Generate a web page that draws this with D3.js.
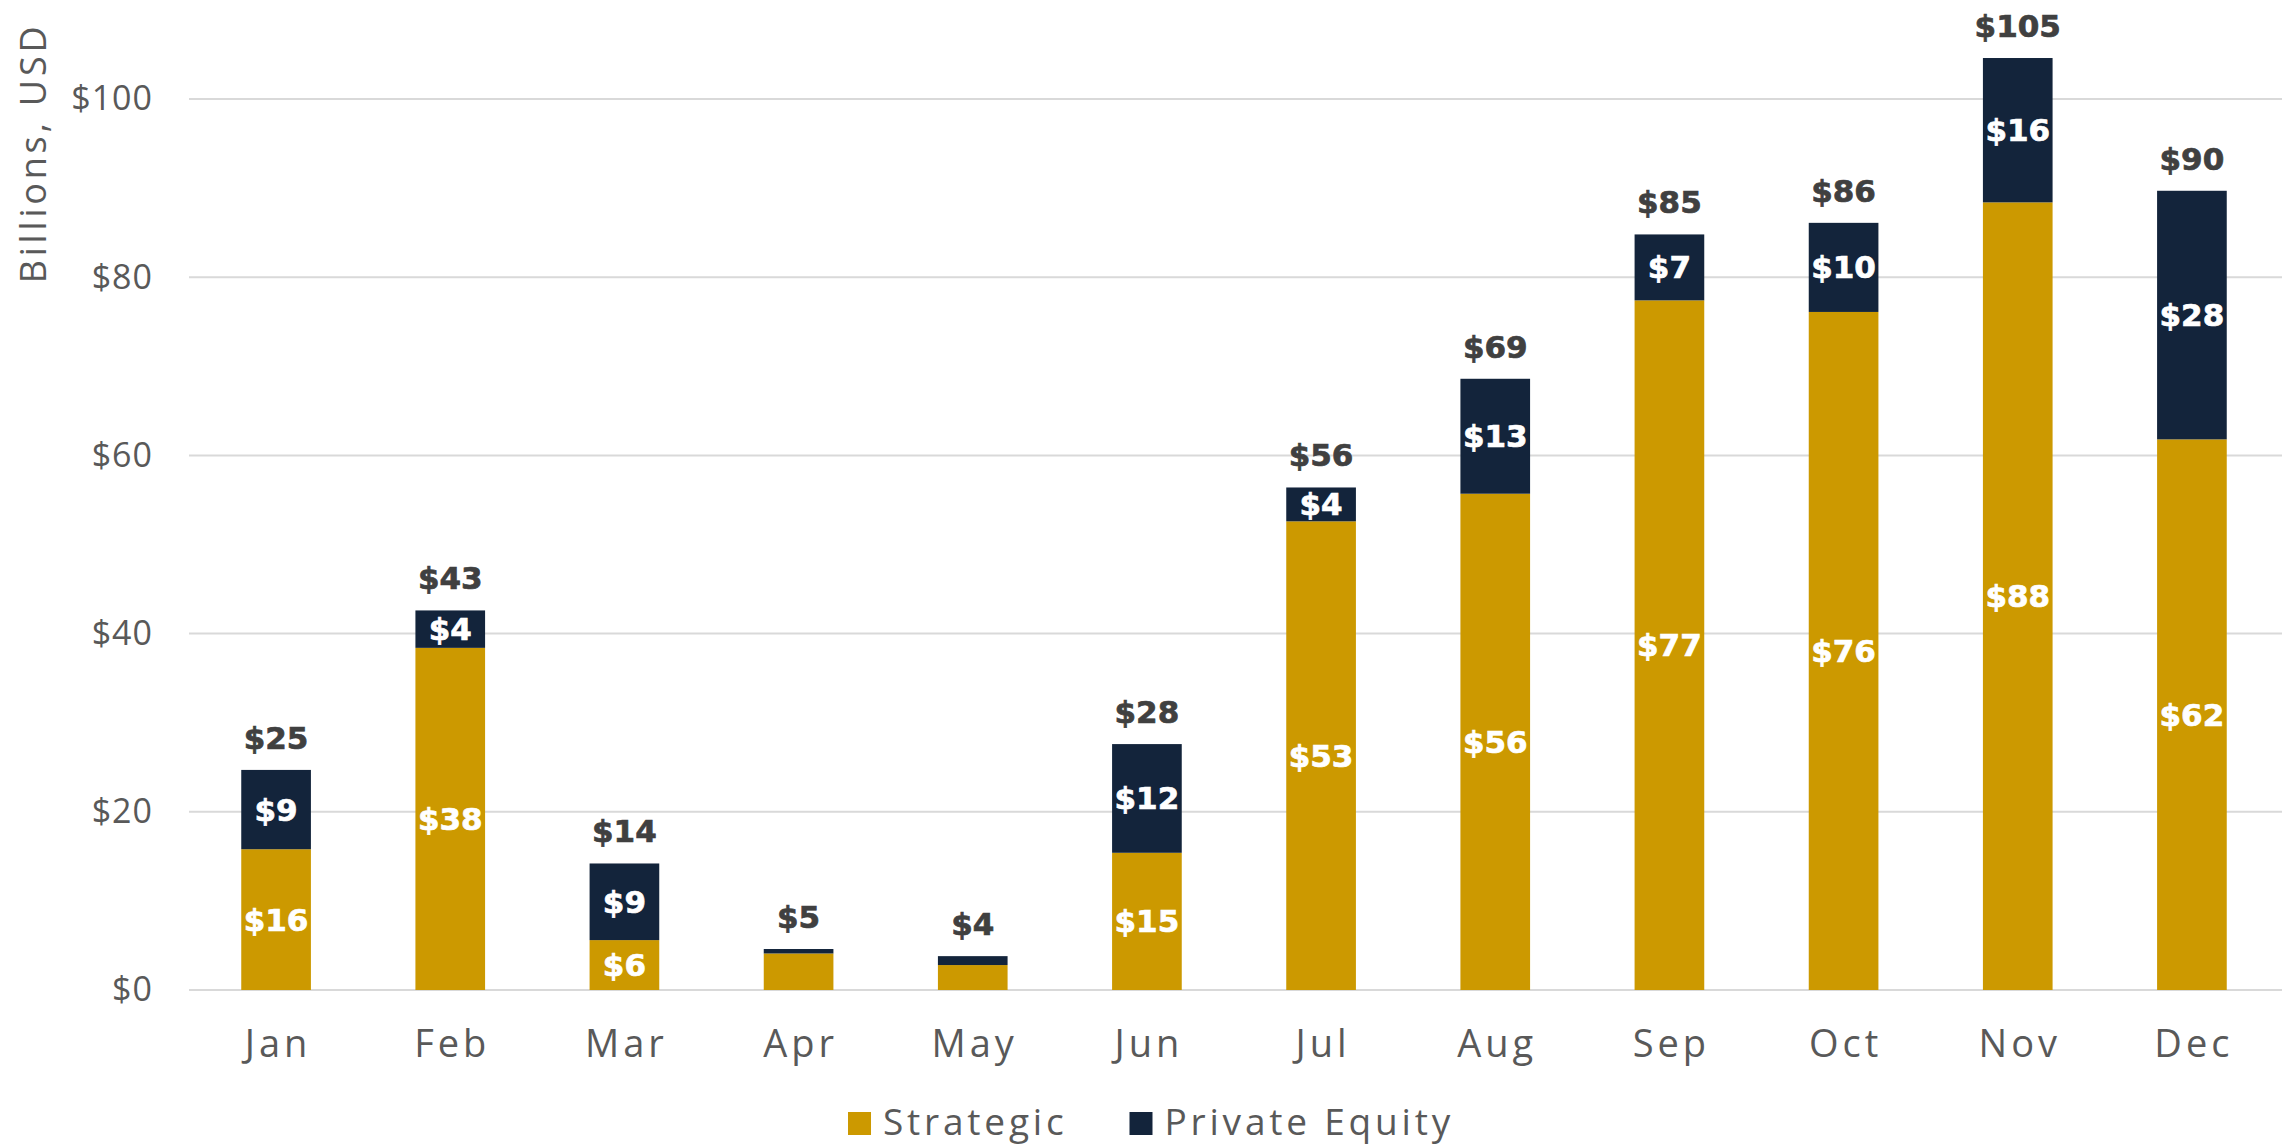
<!DOCTYPE html>
<html>
<head>
<meta charset="utf-8">
<script src="https://cdn.jsdelivr.net/npm/d3@7/dist/d3.min.js"></script>
<style>
  html, body { margin: 0; padding: 0; background: #ffffff; }
  svg { display: block; }
  .axis-text { font-family: "Open Sans", "Noto Sans", sans-serif; font-weight: 400; fill: #595959; }
  .val { font-family: "DejaVu Sans", "Open Sans", sans-serif; font-weight: 700; stroke-width: 0.7px; }
</style>
</head>
<body>
<svg id="chart" width="2282" height="1147"></svg>
<script>
// Monthly deal value, billions of USD
const months = ["Jan", "Feb", "Mar", "Apr", "May", "Jun", "Jul", "Aug", "Sep", "Oct", "Nov", "Dec"];
const strategic = [15.8, 38.4, 5.6, 4.1, 2.8, 15.4, 52.6, 55.7, 77.4, 76.1, 88.4, 61.8];
const privateEquity = [8.9, 4.2, 8.6, 0.5, 1.0, 12.2, 3.8, 12.9, 7.4, 10.0, 16.2, 27.9];
const yTicks = [0, 20, 40, 60, 80, 100];
const seriesNames = ["Strategic", "Private Equity"];
const seriesColors = ["#CC9900", "#13243B"];

const W = 2282, H = 1147;
const plotLeft = 189, plotRight = 2279, plotTop = 99, plotBottom = 990;

const svg = d3.select("#chart");

const x = d3.scaleBand().domain(months).range([plotLeft, plotRight]).paddingInner(0.6).paddingOuter(0.3);
const y = d3.scaleLinear().domain([0, 100]).range([plotBottom, plotTop]);

const fmt = v => "$" + d3.format(".0f")(v);

// Gridlines and y tick labels
const yAxis = d3.axisLeft(y).tickValues(yTicks).tickSize(0).tickFormat(fmt).tickPadding(36);
const gy = svg.append("g").attr("transform", `translate(${plotLeft},0)`).call(yAxis);
gy.select(".domain").remove();
gy.selectAll(".tick text").attr("class", "axis-text")
  .style("font-size", "34px").style("letter-spacing", "1px").attr("fill", "#595959");

svg.append("g").selectAll("line").data(yTicks).join("line")
  .attr("x1", plotLeft).attr("x2", W)
  .attr("y1", d => y(d)).attr("y2", d => y(d))
  .attr("stroke", "#D9D9D9").attr("stroke-width", 2);

// Y axis title
svg.append("text").attr("class", "axis-text")
  .attr("transform", `translate(32,153) rotate(-90)`)
  .attr("text-anchor", "middle").attr("dominant-baseline", "central")
  .style("font-size", "36px").style("letter-spacing", "3.8px")
  .text("Billions, USD");

// Stacked bars
const rows = months.map((m, i) => ({ month: m, Strategic: strategic[i], "Private Equity": privateEquity[i] }));
const stack = d3.stack().keys(seriesNames)(rows);
const totalOf = r => r.Strategic + r["Private Equity"];

const layers = svg.append("g").selectAll("g").data(stack).join("g")
  .attr("fill", (d, i) => seriesColors[i]);

layers.selectAll("rect").data(d => d).join("rect")
  .attr("x", d => x(d.data.month))
  .attr("width", x.bandwidth())
  .attr("y", d => y(d[1]))
  .attr("height", d => y(d[0]) - y(d[1]));

// Segment labels (omitted on the smallest bars)
layers.selectAll("text").data(d => d.filter(s => s[1] - s[0] >= 2 && totalOf(s.data) >= 10)).join("text")
  .attr("class", "val")
  .attr("x", d => x(d.data.month) + x.bandwidth() / 2)
  .attr("y", d => y((d[0] + d[1]) / 2))
  .attr("text-anchor", "middle").attr("dominant-baseline", "central")
  .attr("fill", "#ffffff").attr("stroke", "#ffffff")
  .style("font-size", "31px")
  .text(d => fmt(d[1] - d[0]));

// Totals above bars
svg.append("g").selectAll("text").data(rows).join("text")
  .attr("class", "val")
  .attr("x", d => x(d.month) + x.bandwidth() / 2)
  .attr("y", d => y(totalOf(d)) - 21)
  .attr("text-anchor", "middle")
  .attr("fill", "#404040").attr("stroke", "#404040")
  .style("font-size", "31px")
  .text(d => fmt(totalOf(d)));

// Month labels
svg.append("g").selectAll("text").data(months).join("text")
  .attr("class", "axis-text")
  .attr("x", d => x(d) + x.bandwidth() / 2 + 2)
  .attr("y", 1057)
  .attr("text-anchor", "middle")
  .style("font-size", "38px").style("letter-spacing", "4px")
  .text(d => d);

// Legend
const legend = svg.append("g");
const items = legend.selectAll("g").data(seriesNames).join("g");
items.append("rect").attr("width", 23).attr("height", 23).attr("y", 1112)
  .attr("fill", (d, i) => seriesColors[i]);
items.append("text").attr("class", "axis-text").attr("y", 1135)
  .style("font-size", "37px").style("letter-spacing", "3.8px").text(d => d);
const widths = [];
items.each(function () { widths.push(d3.select(this).select("text").node().getComputedTextLength()); });
const gapSym = 12, gapItem = 62;
const legendWidth = widths.reduce((a, w) => a + 23 + gapSym + w, 0) + gapItem * (widths.length - 1);
let cx = 1151 - legendWidth / 2;
items.each(function (d, i) {
  const g = d3.select(this);
  g.select("rect").attr("x", cx);
  g.select("text").attr("x", cx + 23 + gapSym);
  cx += 23 + gapSym + widths[i] + gapItem;
});
</script>
</body>
</html>
